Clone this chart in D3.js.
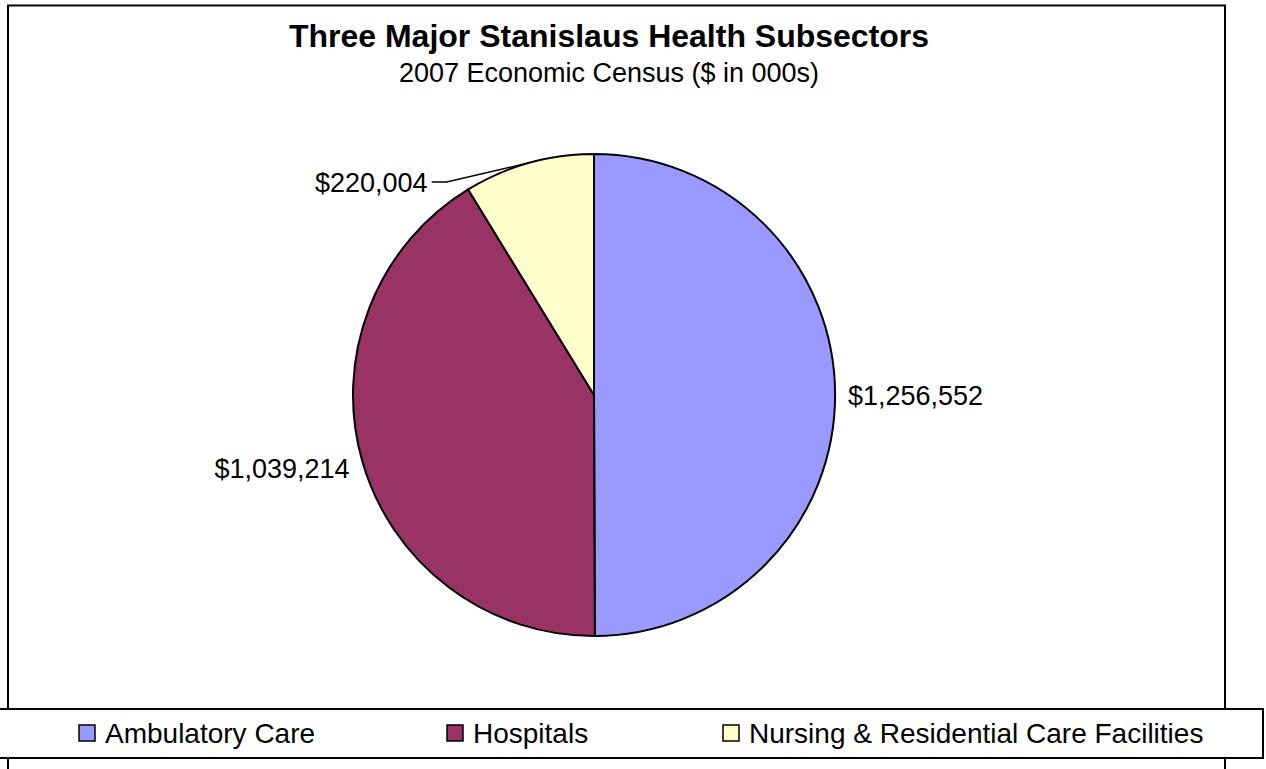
<!DOCTYPE html>
<html>
<head>
<meta charset="utf-8">
<script src="https://cdn.jsdelivr.net/npm/d3@7"></script>
<style>
body { margin: 0; background: #fff; }
svg { display: block; font-family: "Liberation Sans", Arial, sans-serif; }
</style>
</head>
<body>
<svg id="chart"></svg>
<script>
var w = 1266;
var h = 769;

var categories = ["Ambulatory Care", "Hospitals", "Nursing & Residential Care Facilities"];
var values = [1256552, 1039214, 220004];
var colors = ["#9999FF", "#993366", "#FFFFCC"];

var svg = d3.select("#chart")
    .attr("width", w)
    .attr("height", h);

// outer chart border
svg.append("rect")
    .attr("x", 8)
    .attr("y", 5.5)
    .attr("width", 1217)
    .attr("height", 800)
    .attr("fill", "none")
    .attr("stroke", "#000")
    .attr("stroke-width", 2);

svg.append("text")
    .attr("x", 609)
    .attr("y", 47)
    .attr("text-anchor", "middle")
    .style("font-size", "32px")
    .style("font-weight", "bold")
    .text("Three Major Stanislaus Health Subsectors");

svg.append("text")
    .attr("x", 609)
    .attr("y", 82)
    .attr("text-anchor", "middle")
    .style("font-size", "27px")
    .text("2007 Economic Census ($ in 000s)");

var cx = 594, cy = 395, r = 241;

var pie = d3.pie().sort(null);
var arc = d3.arc().innerRadius(0).outerRadius(r);

var fmt = function(d) { return "$" + d3.format(",")(d); };

var g = svg.append("g")
    .attr("transform", "translate(" + cx + "," + cy + ")");

var arcs = pie(values);

g.selectAll("path.slice")
    .data(arcs)
    .enter()
    .append("path")
    .attr("class", "slice")
    .attr("d", arc)
    .attr("fill", function(d, i) { return colors[i]; })
    .attr("stroke", "#000")
    .attr("stroke-width", 2)
    .attr("stroke-linejoin", "round");

// labels
function pt(a, rad) {
    return [Math.sin(a) * rad, -Math.cos(a) * rad];
}

arcs.forEach(function(d, i) {
    var mid = (d.startAngle + d.endAngle) / 2;
    if (i == 2) {
        // small slice: label pulled out with a leader line
        var p0 = pt(mid, r);
        var p1 = [p0[0] - 82, p0[1] + 19];
        var p2 = [p1[0] - 15, p1[1]];
        g.append("polyline")
            .attr("points", [p0, p1, p2].map(function(p) { return p.join(","); }).join(" "))
            .attr("fill", "none")
            .attr("stroke", "#000")
            .attr("stroke-width", 1.5);
        g.append("text")
            .attr("x", p2[0] - 4)
            .attr("y", p2[1] + 10)
            .attr("text-anchor", "end")
            .style("font-size", "27px")
            .text(fmt(values[i]));
    } else {
        var p = pt(mid, r + 13);
        g.append("text")
            .attr("x", p[0])
            .attr("y", p[1] + 10 + (i == 1 ? 4 : 0))
            .attr("text-anchor", p[0] > 0 ? "start" : "end")
            .style("font-size", "27px")
            .text(fmt(values[i]));
    }
});

// legend
svg.append("rect")
    .attr("x", -2)
    .attr("y", 709)
    .attr("width", 1265)
    .attr("height", 49)
    .attr("fill", "#fff")
    .attr("stroke", "#000")
    .attr("stroke-width", 2);

var legendX = [79, 447, 723];

var items = svg.selectAll("g.legend")
    .data(categories)
    .enter()
    .append("g")
    .attr("class", "legend")
    .attr("transform", function(d, i) { return "translate(" + legendX[i] + ",725)"; });

items.append("rect")
    .attr("width", 16)
    .attr("height", 16)
    .attr("fill", function(d, i) { return colors[i]; })
    .attr("stroke", "#000")
    .attr("stroke-width", 1.5);

items.append("text")
    .attr("x", 26)
    .attr("y", 18)
    .style("font-size", "28px")
    .text(function(d) { return d; });
</script>
</body>
</html>
